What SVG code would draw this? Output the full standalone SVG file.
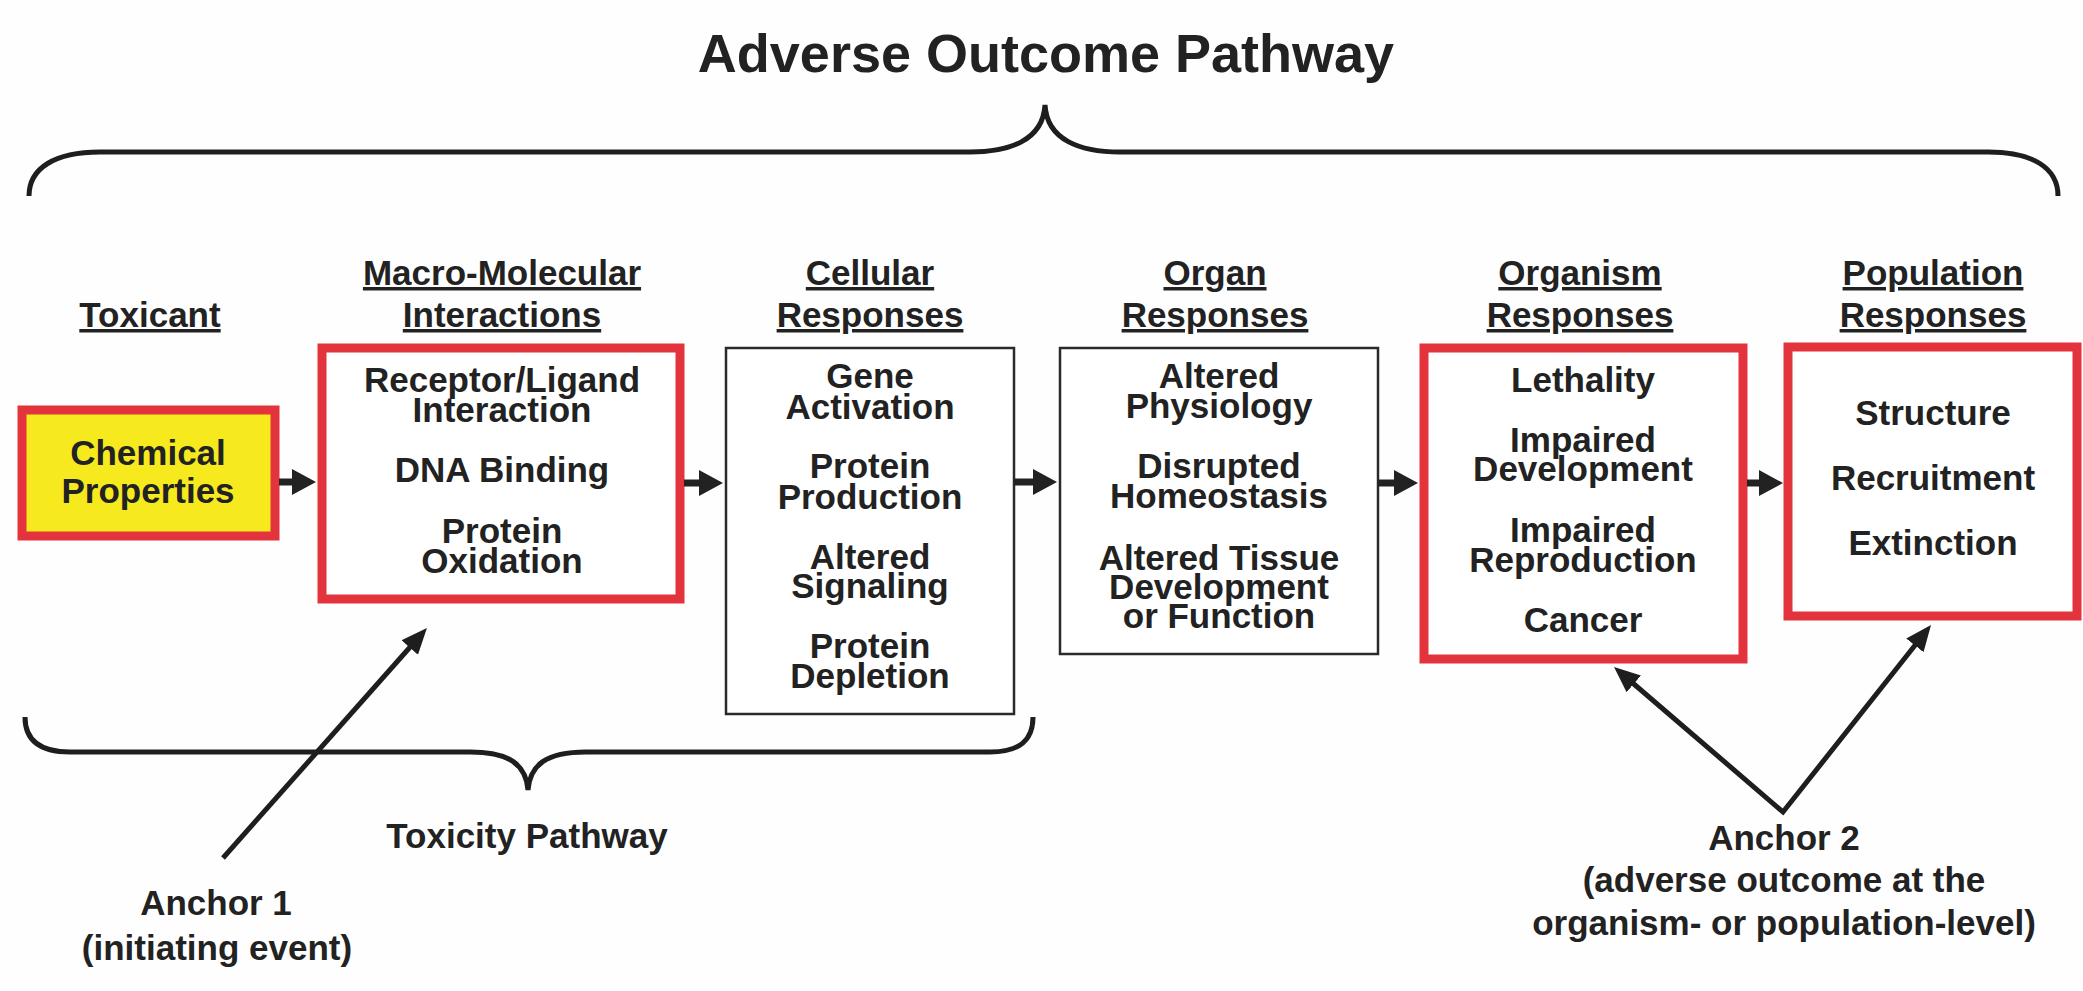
<svg xmlns="http://www.w3.org/2000/svg" width="2083" height="991" viewBox="0 0 2083 991">
  <style>
    text { font-family: "Liberation Sans", Arial, sans-serif; font-weight: bold; fill: #222; text-anchor: middle; }
    .t { font-size: 35px; }
    .h { font-size: 35px; text-decoration: underline; }
    .title { font-size: 54px; }
    .red { fill: #fff; stroke: #e3333c; stroke-width: 9; }
    .plain { fill: #fff; stroke: #2a2a2a; stroke-width: 2.5; }
    .brace { fill: none; stroke: #1e1e1e; stroke-width: 5; stroke-linecap: butt; }
    .step { fill: #222; }
    .anchor { fill: none; stroke: #1e1e1e; stroke-width: 5; stroke-linejoin: miter; }
  </style>
  <defs>
    <marker id="head" markerUnits="userSpaceOnUse" markerWidth="30" markerHeight="26" refX="6" refY="11" orient="auto-start-reverse">
      <path d="M0,0 L26,11 L0,22 Z" fill="#1e1e1e"/>
    </marker>
  </defs>

  <rect width="2083" height="991" fill="#fefefe"/>

  <!-- title and the two braces -->
  <text class="title" x="1046" y="72">Adverse Outcome Pathway</text>
  <path class="brace" d="M29 196 C29 168 55 152 100 152 H970 C1010 152 1043 140 1045 105 C1047 140 1080 152 1120 152 H1988 C2033 152 2058 168 2058 196"/>
  <path class="brace" d="M25 717 C25 740 40 752 70 752 H470 C510 752 526 765 528 790 C530 765 546 752 586 752 H990 C1020 752 1033 740 1033 717"/>
  <text class="t" x="527" y="848">Toxicity Pathway</text>

  <!-- column headings -->
  <g id="headings">
    <text class="h" x="150" y="327">Toxicant</text>
    <text class="h" x="502" y="285">Macro-Molecular</text>
    <text class="h" x="502" y="327">Interactions</text>
    <text class="h" x="870" y="285">Cellular</text>
    <text class="h" x="870" y="327">Responses</text>
    <text class="h" x="1215" y="285">Organ</text>
    <text class="h" x="1215" y="327">Responses</text>
    <text class="h" x="1580" y="285">Organism</text>
    <text class="h" x="1580" y="327">Responses</text>
    <text class="h" x="1933" y="285">Population</text>
    <text class="h" x="1933" y="327">Responses</text>
  </g>

  <g id="toxicant">
    <rect x="22" y="410" width="253" height="126" fill="#f6ea1f" stroke="#e3333c" stroke-width="9"/>
    <text class="t" x="148" y="465">Chemical</text>
    <text class="t" x="148" y="503">Properties</text>
  </g>

  <g id="macro-molecular">
    <rect class="red" x="322" y="348" width="358" height="251"/>
    <text class="t" x="502" y="392">Receptor/Ligand</text>
    <text class="t" x="502" y="422">Interaction</text>
    <text class="t" x="502" y="482">DNA Binding</text>
    <text class="t" x="502" y="543">Protein</text>
    <text class="t" x="502" y="573">Oxidation</text>
  </g>

  <g id="cellular">
    <rect class="plain" x="726" y="348" width="288" height="366"/>
    <text class="t" x="870" y="388">Gene</text>
    <text class="t" x="870" y="419">Activation</text>
    <text class="t" x="870" y="478">Protein</text>
    <text class="t" x="870" y="509">Production</text>
    <text class="t" x="870" y="569">Altered</text>
    <text class="t" x="870" y="598">Signaling</text>
    <text class="t" x="870" y="658">Protein</text>
    <text class="t" x="870" y="688">Depletion</text>
  </g>

  <g id="organ">
    <rect class="plain" x="1060" y="348" width="318" height="306"/>
    <text class="t" x="1219" y="388">Altered</text>
    <text class="t" x="1219" y="418">Physiology</text>
    <text class="t" x="1219" y="478">Disrupted</text>
    <text class="t" x="1219" y="508">Homeostasis</text>
    <text class="t" x="1219" y="570">Altered Tissue</text>
    <text class="t" x="1219" y="599">Development</text>
    <text class="t" x="1219" y="628">or Function</text>
  </g>

  <g id="organism">
    <rect class="red" x="1424" y="348" width="319" height="311"/>
    <text class="t" x="1583" y="392">Lethality</text>
    <text class="t" x="1583" y="452">Impaired</text>
    <text class="t" x="1583" y="481">Development</text>
    <text class="t" x="1583" y="542">Impaired</text>
    <text class="t" x="1583" y="572">Reproduction</text>
    <text class="t" x="1583" y="632">Cancer</text>
  </g>

  <g id="population">
    <rect class="red" x="1788" y="347" width="289" height="269"/>
    <text class="t" x="1933" y="425">Structure</text>
    <text class="t" x="1933" y="490">Recruitment</text>
    <text class="t" x="1933" y="555">Extinction</text>
  </g>

  <g id="anchor-1">
    <text class="t" x="216" y="915">Anchor 1</text>
    <text class="t" x="217" y="960">(initiating event)</text>
  </g>

  <g id="anchor-2">
    <text class="t" x="1784" y="850">Anchor 2</text>
    <text class="t" x="1784" y="892">(adverse outcome at the</text>
    <text class="t" x="1784" y="935">organism- or population-level)</text>
  </g>

  <!-- connectors -->
  <g id="connectors">
    <path class="step" d="M279 478.5 H292 V469 L316 482 L292 495 V485.5 H279 Z"/>
    <path class="step" d="M684 479.5 H699 V470 L723 483 L699 496 V486.5 H684 Z"/>
    <path class="step" d="M1014 478.5 H1033 V469 L1057 482 L1033 495 V485.5 H1014 Z"/>
    <path class="step" d="M1378 479.5 H1394 V470 L1418 483 L1394 496 V486.5 H1378 Z"/>
    <path class="step" d="M1747 479.5 H1759 V470 L1783 483 L1759 496 V486.5 H1747 Z"/>
    <line class="anchor" x1="223" y1="858" x2="413.7" y2="643" marker-end="url(#head)"/>
    <path class="anchor" d="M1629.2 680 L1783 812 L1918.6 640.7" marker-start="url(#head)" marker-end="url(#head)"/>
  </g>
</svg>
